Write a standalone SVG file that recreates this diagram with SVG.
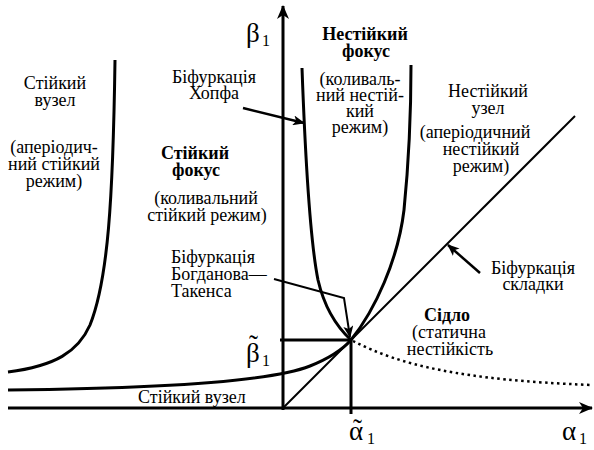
<svg xmlns="http://www.w3.org/2000/svg" width="594" height="450" viewBox="0 0 594 450">
<defs>
<marker id="ah" viewBox="0 0 12 10" refX="11" refY="5" markerWidth="12" markerHeight="10" markerUnits="userSpaceOnUse" orient="auto">
<path d="M0,0 L12,5 L0,10 L3,5 z" fill="#000"/>
</marker>
<marker id="ax" viewBox="0 0 14 12" refX="13" refY="6" markerWidth="14" markerHeight="12" markerUnits="userSpaceOnUse" orient="auto">
<path d="M0,0 L14,6 L0,12 L4,6 z" fill="#000"/>
</marker>
</defs>
<g id="connectors" fill="none" stroke="#000">
<path id="axis-x" d="M8,408 L592,408" stroke-width="3" marker-end="url(#ax)"/>
<path id="axis-y" d="M283,410 L283,6" stroke-width="3" marker-end="url(#ax)"/>
<path id="fold-line" stroke-width="2" d="M283,408 L575,116"/>
<path id="stable-node-boundary" stroke-width="3" d="M115,60 C113,200 108,280 90,325 C78,352 55,366 8,372"/>
<path id="lower-curve" stroke-width="3" d="M8,390 C200,388 280,378 310,366 C330,358 343,349 351,340"/>
<path id="hopf-left" stroke-width="3" d="M302,68 C305,150 310,240 318,280 C325,310 338,328 351,340"/>
<path id="hopf-right" stroke-width="3" d="M351,340 C375,310 398,260 404,210 C409,160 411,110 411,65"/>
<path id="saddle-dotted" stroke-width="2.5" stroke-dasharray="2.5,3.5" d="M353,341 C400,365 460,380 592,385"/>
<path id="beta-level" stroke-width="3" d="M280,340 L351,340"/>
<path id="alpha-level" stroke-width="3" d="M351,340 L351,414"/>
<path id="hopf-pointer" stroke-width="2.5" marker-end="url(#ah)" d="M243,108 L304,123"/>
<path id="bt-pointer" stroke-width="2" marker-end="url(#ah)" d="M274,279 L344,298 L350,337"/>
<path id="fold-pointer" stroke-width="2.5" marker-end="url(#ah)" d="M480,273 L448,245"/>
</g>
<g id="axis-labels" fill="#000">
<text font-family="Liberation Serif" font-size="27" x="246" y="42">β</text><text font-family="Liberation Serif" font-size="16" x="262" y="46">1</text>
<text font-family="Liberation Serif" font-size="27" x="246" y="362">β</text><text font-family="Liberation Serif" font-size="27" x="249" y="354">˜</text><text font-family="Liberation Serif" font-size="16" x="262" y="366">1</text>
<text font-family="Liberation Serif" font-size="27" x="349" y="440">α</text><text font-family="Liberation Serif" font-size="27" x="353" y="438">˜</text><text font-family="Liberation Serif" font-size="16" x="367" y="444">1</text>
<text font-family="Liberation Serif" font-size="27" x="562" y="440">α</text><text font-family="Liberation Serif" font-size="16" x="579" y="444">1</text>
</g>
<g id="stable-node" text-anchor="middle" fill="#000">
<text font-family="Liberation Serif" font-size="18" x="55" y="89">Стійкий</text>
<text font-family="Liberation Serif" font-size="18" x="55" y="106">вузел</text>
<text font-family="Liberation Serif" font-size="18" x="54" y="153">(аперіодич-</text>
<text font-family="Liberation Serif" font-size="18" x="54" y="170">ний стійкий</text>
<text font-family="Liberation Serif" font-size="18" x="54" y="187">режим)</text>
</g>
<g id="hopf-label" text-anchor="middle" fill="#000">
<text font-family="Liberation Serif" font-size="18" x="214" y="83">Біфуркація</text>
<text font-family="Liberation Serif" font-size="18" x="214" y="99">Хопфа</text>
</g>
<g id="stable-focus" text-anchor="middle" fill="#000">
<text font-family="Liberation Serif" font-size="18" font-weight="bold" x="195" y="159">Стійкий</text>
<text font-family="Liberation Serif" font-size="18" font-weight="bold" x="196" y="176">фокус</text>
<text font-family="Liberation Serif" font-size="18" x="206" y="204">(коливальний</text>
<text font-family="Liberation Serif" font-size="18" x="207" y="221">стійкий режим)</text>
</g>
<g id="unstable-focus" text-anchor="middle" fill="#000">
<text font-family="Liberation Serif" font-size="18" font-weight="bold" x="365" y="40">Нестійкий</text>
<text font-family="Liberation Serif" font-size="18" font-weight="bold" x="366" y="57">фокус</text>
<text font-family="Liberation Serif" font-size="18" x="360" y="85">(коливаль-</text>
<text font-family="Liberation Serif" font-size="18" x="360" y="101">ний нестій-</text>
<text font-family="Liberation Serif" font-size="18" x="360" y="117">кий</text>
<text font-family="Liberation Serif" font-size="18" x="360" y="133">режим)</text>
</g>
<g id="unstable-node" text-anchor="middle" fill="#000">
<text font-family="Liberation Serif" font-size="18" x="488" y="97">Нестійкий</text>
<text font-family="Liberation Serif" font-size="18" x="488" y="114">узел</text>
<text font-family="Liberation Serif" font-size="18" x="475" y="138">(аперіодичний</text>
<text font-family="Liberation Serif" font-size="18" x="481" y="155">нестійкий</text>
<text font-family="Liberation Serif" font-size="18" x="481" y="172">режим)</text>
</g>
<g id="bt-label" fill="#000">
<text font-family="Liberation Serif" font-size="18" x="171" y="263">Біфуркація</text>
<text font-family="Liberation Serif" font-size="18" x="171" y="280">Богданова—</text>
<text font-family="Liberation Serif" font-size="18" x="171" y="297">Такенса</text>
</g>
<g id="fold-label" text-anchor="middle" fill="#000">
<text font-family="Liberation Serif" font-size="18" x="533" y="274">Біфуркація</text>
<text font-family="Liberation Serif" font-size="18" x="533" y="290">складки</text>
</g>
<g id="saddle" text-anchor="middle" fill="#000">
<text font-family="Liberation Serif" font-size="18" font-weight="bold" x="447" y="321">Сідло</text>
<text font-family="Liberation Serif" font-size="18" x="449" y="338">(статична</text>
<text font-family="Liberation Serif" font-size="18" x="450" y="355">нестійкість</text>
</g>
<g id="stable-node-bottom" fill="#000">
<text font-family="Liberation Serif" font-size="18" x="138" y="403">Стійкий вузел</text>
</g>
</svg>
